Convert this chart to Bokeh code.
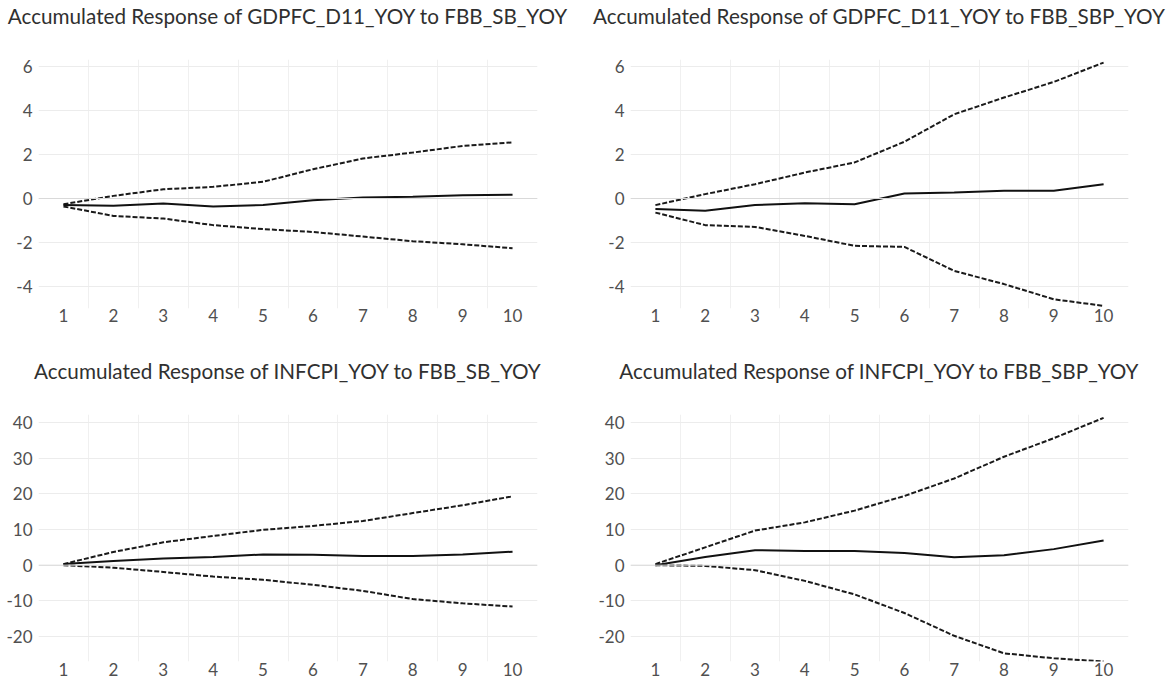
from bokeh.plotting import figure
from bokeh.layouts import column, row
from bokeh.models import FixedTicker, Span, Range1d, LinearAxis
from bokeh.embed import file_html
from bokeh.resources import INLINE

periods = [1, 2, 3, 4, 5, 6, 7, 8, 9, 10]

titles = [
    "Accumulated Response of GDPFC_D11_YOY to FBB_SB_YOY",
    "Accumulated Response of GDPFC_D11_YOY to FBB_SBP_YOY",
    "Accumulated Response of INFCPI_YOY to FBB_SB_YOY",
    "Accumulated Response of INFCPI_YOY to FBB_SBP_YOY",
]

gdp_sb_resp = [-0.29, -0.33, -0.23, -0.36, -0.30, -0.08, 0.05, 0.08, 0.15, 0.17]
gdp_sb_upper = [-0.26, 0.12, 0.42, 0.53, 0.76, 1.33, 1.82, 2.09, 2.39, 2.55]
gdp_sb_lower = [-0.36, -0.79, -0.91, -1.21, -1.39, -1.52, -1.73, -1.94, -2.08, -2.26]

gdp_sbp_resp = [-0.48, -0.56, -0.30, -0.21, -0.26, 0.23, 0.27, 0.35, 0.35, 0.65]
gdp_sbp_upper = [-0.30, 0.20, 0.65, 1.18, 1.64, 2.58, 3.83, 4.59, 5.30, 6.18]
gdp_sbp_lower = [-0.64, -1.21, -1.29, -1.70, -2.15, -2.20, -3.29, -3.89, -4.58, -4.88]

inf_sb_resp = [0.3, 1.2, 1.9, 2.3, 3.0, 2.9, 2.6, 2.6, 3.0, 3.8]
inf_sb_upper = [0.3, 3.7, 6.4, 8.2, 9.9, 11.0, 12.4, 14.6, 16.8, 19.3]
inf_sb_lower = [0.0, -0.7, -1.9, -3.2, -4.1, -5.5, -7.2, -9.5, -10.7, -11.6]

inf_sbp_resp = [0.0, 2.3, 4.2, 4.0, 4.0, 3.4, 2.2, 2.8, 4.5, 6.9]
inf_sbp_upper = [0.3, 5.0, 9.7, 12.0, 15.3, 19.4, 24.3, 30.4, 35.6, 41.3]
inf_sbp_lower = [0.0, -0.2, -1.4, -4.4, -8.2, -13.4, -19.8, -24.7, -26.1, -27.0]

gdp_ticks = [-4, -2, 0, 2, 4, 6]
inf_ticks = [-20, -10, 0, 10, 20, 30, 40]

FONT = "Lato"


def make_panel(title, resp, upper, lower, yticks, yrange, fw, fh,
               bl, br, bt, bb, xstand):
    p = figure(frame_width=fw, frame_height=fh, output_backend="svg",
               toolbar_location=None, x_range=Range1d(0.5, 10.5),
               y_range=Range1d(*yrange),
               min_border_left=bl, min_border_right=br,
               min_border_top=bt, min_border_bottom=bb)

    p.title.text = title
    p.title.align = "center"
    p.title.text_font = FONT
    p.title.text_font_size = "20.7px"
    p.title.text_font_style = "normal"
    p.title.text_color = "#303030"
    p.title.standoff = 2
    p.outline_line_color = None
    p.background_fill_color = "white"
    p.border_fill_color = "white"

    xax = p.below[0]
    yax = p.left[0]
    xax.ticker = FixedTicker(ticks=periods)
    yax.ticker = FixedTicker(ticks=yticks)
    yax.major_label_overrides = {t: str(t) for t in yticks}
    p.xgrid.ticker = FixedTicker(ticks=[k + 0.5 for k in range(0, 11)])
    p.ygrid.ticker = FixedTicker(ticks=yticks)
    p.xgrid.grid_line_color = "#f0f0f0"
    p.ygrid.grid_line_color = "#ececec"
    for ax in (xax, yax):
        ax.axis_line_color = None
        ax.major_tick_line_color = None
        ax.minor_tick_line_color = None
        ax.major_tick_out = 0
        ax.major_tick_in = 0
        ax.minor_tick_out = 0
        ax.major_label_text_font = FONT
        ax.major_label_text_font_size = "17px"
        ax.major_label_text_color = "#505050"
    xax.major_label_standoff = xstand
    yax.major_label_standoff = 6

    # empty spacer band between the title and the plot area
    spacer = LinearAxis(ticker=FixedTicker(ticks=[5.5]),
                        major_label_overrides={5.5: ""},
                        axis_line_color=None,
                        major_tick_out=31, major_tick_in=0,
                        major_tick_line_color=None, minor_tick_line_color=None,
                        minor_tick_out=0, major_label_standoff=0)
    p.add_layout(spacer, "above")

    p.add_layout(Span(location=0, dimension="width", line_color="#d9d9d9",
                      line_width=1))

    p.line(periods, upper, line_color="#1a1a1a", line_width=2, line_dash="5 2")
    p.line(periods, lower, line_color="#1a1a1a", line_width=2, line_dash="5 2")
    p.line(periods, resp, line_color="#111111", line_width=2)
    return p


p1 = make_panel(titles[0], gdp_sb_resp, gdp_sb_upper, gdp_sb_lower,
                gdp_ticks, (-5.0, 6.32), 499, 249, 38, 40, 58, 24, 0)
p2 = make_panel(titles[1], gdp_sbp_resp, gdp_sbp_upper, gdp_sbp_lower,
                gdp_ticks, (-5.0, 6.32), 498, 249, 53, 40, 58, 24, 0)
p3 = make_panel(titles[2], inf_sb_resp, inf_sb_upper, inf_sb_lower,
                inf_ticks, (-27.0, 42.24), 499, 247, 38, 40, 82, 22, 1)
p4 = make_panel(titles[3], inf_sbp_resp, inf_sbp_upper, inf_sbp_lower,
                inf_ticks, (-27.0, 42.24), 498, 247, 53, 40, 82, 22, 1)

layout = column(row(p1, p2), row(p3, p4))

open("out.html", "w").write(file_html(layout, INLINE))
